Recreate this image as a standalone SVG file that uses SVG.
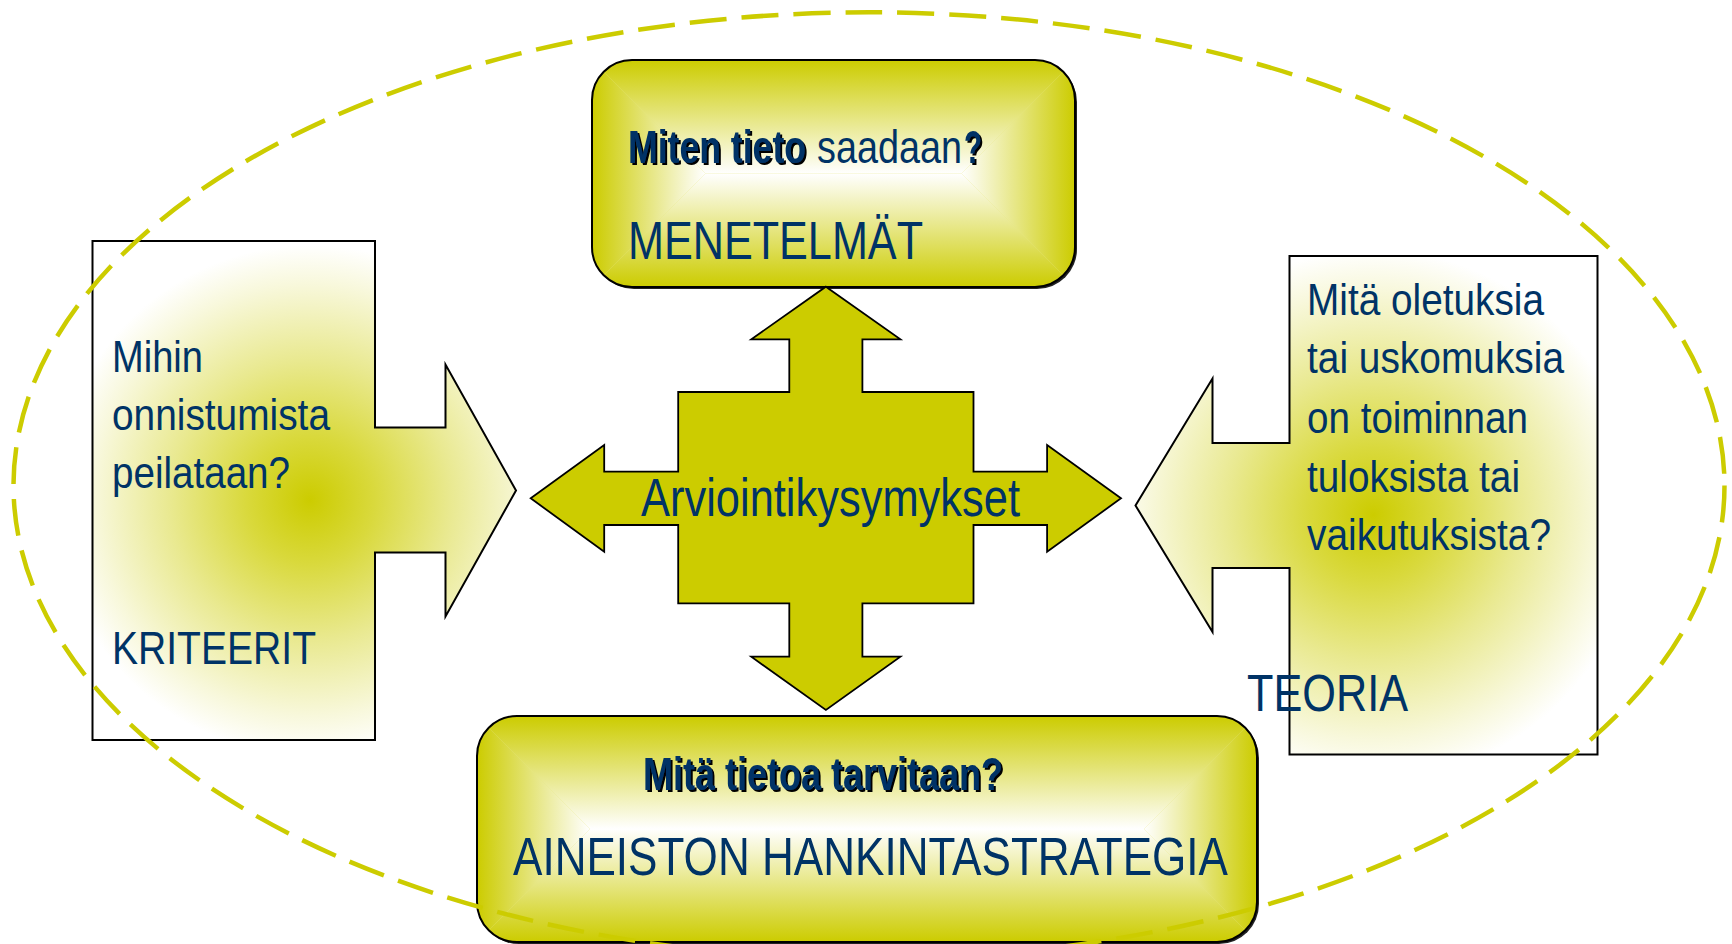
<svg xmlns="http://www.w3.org/2000/svg" width="1732" height="944" viewBox="0 0 1732 944">
<style>
.t{font-family:"Liberation Sans Narrow","Liberation Sans",Arial,sans-serif;fill:#003366;}
.b{font-weight:bold;}
.sh{filter:url(#ds);}
.outline{stroke:#000;stroke-width:2;}
</style>
<defs>
<filter id="ds" x="-5%" y="-20%" width="110%" height="140%">
<feDropShadow dx="2" dy="2" stdDeviation="0.3" flood-color="#000" flood-opacity="1"/>
</filter>
<radialGradient id="gl" gradientUnits="userSpaceOnUse" cx="310" cy="500" r="255">
<stop offset="0" stop-color="#cccc00"/>
<stop offset="0.25" stop-color="#d9d93c"/>
<stop offset="0.55" stop-color="#e9e990"/>
<stop offset="0.85" stop-color="#f8f8dc"/>
<stop offset="1" stop-color="#ffffff"/>
</radialGradient>
<radialGradient id="gr" gradientUnits="userSpaceOnUse" cx="1373" cy="515" r="265">
<stop offset="0" stop-color="#cccc00"/>
<stop offset="0.25" stop-color="#d9d93c"/>
<stop offset="0.55" stop-color="#e9e990"/>
<stop offset="0.85" stop-color="#f8f8dc"/>
<stop offset="1" stop-color="#ffffff"/>
</radialGradient>
<linearGradient id="tT" gradientUnits="userSpaceOnUse" x1="0" y1="60" x2="0" y2="173.5"><stop offset="0" stop-color="#cccc00"/><stop offset="1" stop-color="#ffffff"/></linearGradient>
<linearGradient id="tB" gradientUnits="userSpaceOnUse" x1="0" y1="287" x2="0" y2="173.5"><stop offset="0" stop-color="#cccc00"/><stop offset="1" stop-color="#ffffff"/></linearGradient>
<linearGradient id="tL" gradientUnits="userSpaceOnUse" x1="592" y1="0" x2="705.5" y2="0"><stop offset="0" stop-color="#cccc00"/><stop offset="1" stop-color="#ffffff"/></linearGradient>
<linearGradient id="tR" gradientUnits="userSpaceOnUse" x1="1075" y1="0" x2="961.5" y2="0"><stop offset="0" stop-color="#cccc00"/><stop offset="1" stop-color="#ffffff"/></linearGradient>
<linearGradient id="bT" gradientUnits="userSpaceOnUse" x1="0" y1="716" x2="0" y2="829"><stop offset="0" stop-color="#cccc00"/><stop offset="1" stop-color="#ffffff"/></linearGradient>
<linearGradient id="bB" gradientUnits="userSpaceOnUse" x1="0" y1="942" x2="0" y2="829"><stop offset="0" stop-color="#cccc00"/><stop offset="1" stop-color="#ffffff"/></linearGradient>
<linearGradient id="bL" gradientUnits="userSpaceOnUse" x1="477" y1="0" x2="590" y2="0"><stop offset="0" stop-color="#cccc00"/><stop offset="1" stop-color="#ffffff"/></linearGradient>
<linearGradient id="bR" gradientUnits="userSpaceOnUse" x1="1257" y1="0" x2="1144" y2="0"><stop offset="0" stop-color="#cccc00"/><stop offset="1" stop-color="#ffffff"/></linearGradient>
<clipPath id="cTop"><rect x="592" y="60" width="483" height="227" rx="40"/></clipPath>
<clipPath id="cBot"><rect x="477" y="716" width="780" height="226" rx="40"/></clipPath>
</defs>
<rect width="1732" height="944" fill="#ffffff"/>

<g id="node-left">
<path d="M92.5,241 H375 V427.5 H445.5 V364.5 L516,490.5 L445.5,616.5 V552.5 H375 V740 H92.5 Z" fill="url(#gl)" class="outline"/>
<text class="t" x="112" y="372" font-size="45" textLength="91" lengthAdjust="spacingAndGlyphs">Mihin</text>
<text class="t" x="112" y="430" font-size="45" textLength="218" lengthAdjust="spacingAndGlyphs">onnistumista</text>
<text class="t" x="112" y="488" font-size="45" textLength="178" lengthAdjust="spacingAndGlyphs">peilataan?</text>
<text class="t" x="112" y="664" font-size="46" textLength="204" lengthAdjust="spacingAndGlyphs">KRITEERIT</text>
</g>

<g id="node-right">
<path d="M1289.5,256 H1597.5 V754.5 H1289.5 V568 H1212.5 V632 L1135.5,505.5 L1212.5,378.5 V443 H1289.5 Z" fill="url(#gr)" class="outline"/>
<text class="t" x="1307" y="315" font-size="44.5" textLength="237" lengthAdjust="spacingAndGlyphs">Mitä oletuksia</text>
<text class="t" x="1307" y="373" font-size="44.5" textLength="257" lengthAdjust="spacingAndGlyphs">tai uskomuksia</text>
<text class="t" x="1307" y="432.5" font-size="44.5" textLength="221" lengthAdjust="spacingAndGlyphs">on toiminnan</text>
<text class="t" x="1307" y="491.5" font-size="44.5" textLength="213" lengthAdjust="spacingAndGlyphs">tuloksista tai</text>
<text class="t" x="1307" y="550" font-size="44.5" textLength="244" lengthAdjust="spacingAndGlyphs">vaikutuksista?</text>
<text class="t" x="1247" y="711" font-size="51" textLength="161" lengthAdjust="spacingAndGlyphs">TEORIA</text>
</g>

<g id="node-top">
<rect x="594" y="62" width="483" height="227" rx="40" fill="#222"/>
<g clip-path="url(#cTop)">
<rect x="592" y="60" width="483" height="227" fill="#e6e680"/>
<polygon points="592,60 1075,60 961.5,173.5 705.5,173.5" fill="url(#tT)"/>
<polygon points="592,287 1075,287 961.5,173.5 705.5,173.5" fill="url(#tB)"/>
<polygon points="592,60 705.5,173.5 592,287" fill="url(#tL)"/>
<polygon points="1075,60 961.5,173.5 1075,287" fill="url(#tR)"/>
</g>
<rect x="592" y="60" width="483" height="227" rx="40" fill="none" class="outline"/>
<text class="t b sh" x="628" y="163" font-size="46" textLength="178" lengthAdjust="spacingAndGlyphs">Miten tieto</text>
<text class="t" x="817" y="163" font-size="46" textLength="145" lengthAdjust="spacingAndGlyphs">saadaan</text>
<text class="t b sh" x="964" y="163" font-size="46" textLength="18" lengthAdjust="spacingAndGlyphs">?</text>
<text class="t" x="628" y="259" font-size="53" textLength="295" lengthAdjust="spacingAndGlyphs">MENETELMÄT</text>
</g>

<g id="node-bottom">
<rect x="479" y="718" width="780" height="226" rx="40" fill="#222"/>
<g clip-path="url(#cBot)">
<rect x="477" y="716" width="780" height="226" fill="#e6e680"/>
<polygon points="477,716 1257,716 1144,829 590,829" fill="url(#bT)"/>
<polygon points="477,942 1257,942 1144,829 590,829" fill="url(#bB)"/>
<polygon points="477,716 590,829 477,942" fill="url(#bL)"/>
<polygon points="1257,716 1144,829 1257,942" fill="url(#bR)"/>
</g>
<rect x="477" y="716" width="780" height="226" rx="40" fill="none" class="outline"/>
<text class="t b sh" x="643" y="790" font-size="47" textLength="360" lengthAdjust="spacingAndGlyphs">Mitä tietoa tarvitaan?</text>
<text class="t" x="513" y="875" font-size="53" textLength="715" lengthAdjust="spacingAndGlyphs">AINEISTON HANKINTASTRATEGIA</text>
</g>

<g id="node-center">
<path d="M825.9,286.7 L900.4,339.3 H862.4 V392 H973.5 V471.7 H1047.1 V445 L1121,498.3 L1047.1,551.7 V525 H973.5 V603.3 H862.4 V656.7 H900.4 L825.9,710 L751.3,656.7 H789.3 V603.3 H678.2 V525 H604.2 V551.7 L530.7,498.3 L604.2,445 V471.7 H678.2 V392 H789.3 V339.3 H751.3 Z" fill="#cccc00" stroke="#000" stroke-width="1.8" stroke-linejoin="miter"/>
<text class="t" x="641" y="516" font-size="53" textLength="379" lengthAdjust="spacingAndGlyphs">Arviointikysymykset</text>
</g>

<g id="connectors"></g>

<g id="frame">
<ellipse cx="869" cy="485.6" rx="855.5" ry="473.3" fill="none" stroke="#cccc00" stroke-width="4.5" stroke-dasharray="37 15"/>
</g>
</svg>
